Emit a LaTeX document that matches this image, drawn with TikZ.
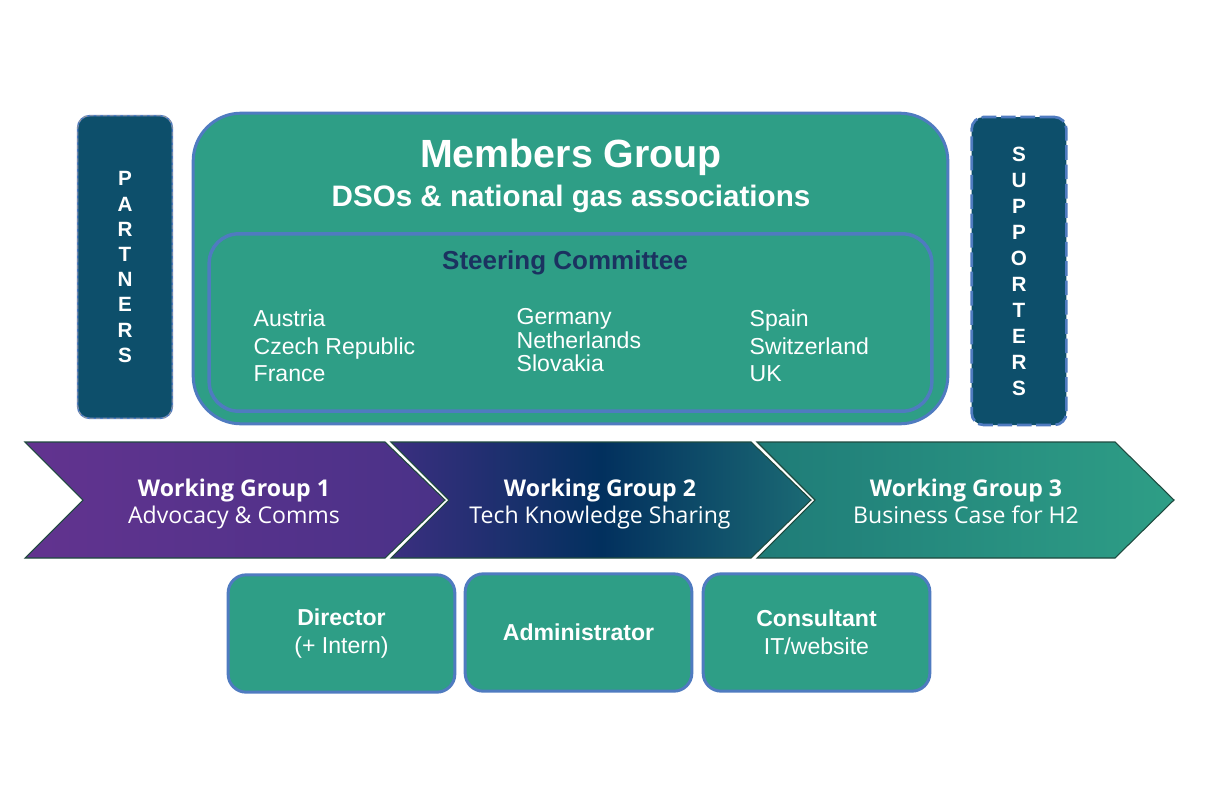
\documentclass[tikz,border=0pt]{standalone}
\usepackage{fontspec}
\setmainfont{Liberation Sans}
\newfontfamily\wgfont{Open Sans}
\usetikzlibrary{positioning}

\definecolor{memgreen}{HTML}{2E9E86}
\definecolor{sidenavy}{HTML}{0D4F6B}
\definecolor{rimblue}{HTML}{4F7BC0}
\definecolor{steernavy}{HTML}{1B3260}
\definecolor{chevline}{HTML}{1F4A3F}
\definecolor{wgoneA}{HTML}{62338F}
\definecolor{wgoneB}{HTML}{4A3288}
\definecolor{wgtwoA}{HTML}{3B2F80}
\definecolor{wgtwoB}{HTML}{02305E}
\definecolor{wgtwoC}{HTML}{1B6A74}
\definecolor{wgthreeA}{HTML}{1F7C78}
\definecolor{wgthreeB}{HTML}{2E9E86}

\pgfdeclarehorizontalshading{wgmid}{100bp}{color(0bp)=(wgtwoA); color(25bp)=(wgtwoA); color(50bp)=(wgtwoB); color(75bp)=(wgtwoC); color(100bp)=(wgtwoC)}

\begin{document}
\begin{tikzpicture}[
    x=0.75pt, y=-0.75pt,
    sidebox/.style={rectangle, rounded corners=9pt, fill=sidenavy, text=white, align=center, minimum width=71pt, font=\fontsize{15.5}{18.9}\selectfont\bfseries},
    memberbox/.style={rectangle, rounded corners=36pt, fill=memgreen, draw=rimblue, line width=2.25pt, minimum width=566pt, minimum height=233pt},
    steerbox/.style={rectangle, rounded corners=22pt, draw=rimblue, line width=2.6pt, minimum width=542pt, minimum height=133pt},
    country/.style={anchor=west, align=left, text=white},
    wgshape/.style={draw=chevline, line width=0.8pt},
    wgtext/.style={text=white, align=center, font=\wgfont\fontsize{17.3}{20.25}\selectfont},
    staff/.style={rectangle, rounded corners=13.5pt, fill=memgreen, draw=rimblue, line width=2.25pt, minimum width=170pt, minimum height=88pt, text=white, align=center, font=\fontsize{17.3}{21}\selectfont}
]
\useasboundingbox (0,0) rectangle (1206,804);

% partners / supporters
\node (partners) [sidebox, minimum height=227pt, draw=rimblue, line width=1.2pt,
    postaction={draw=gray!80, densely dashed, line width=0.6pt}] at (125,267) {P\\A\\R\\T\\N\\E\\R\\S};
\node (supporters) [sidebox, minimum height=231pt, draw=rimblue, line width=2pt,
    dash pattern=on 11pt off 3.5pt, font=\fontsize{15.5}{19.5}\selectfont\bfseries] at (1019,271) {S\\U\\P\\P\\O\\R\\T\\E\\R\\S};

% members group
\node (members) [memberbox] at (570.5,268.5) {};
\node (title) [text=white, font=\fontsize{29.5}{35}\selectfont\bfseries] at (571,157) {Members Group};
\node (dsos) [text=white, font=\fontsize{22.2}{26}\selectfont\bfseries] at (571,199) {DSOs \& national gas associations};

% steering committee
\node (steering) [steerbox] at (570.5,322.5) {};
\node (steertitle) [text=steernavy, font=\fontsize{19.5}{23}\selectfont\bfseries] at (565,263) {Steering Committee};
\node (colA) [country, font=\fontsize{17.3}{20.6}\selectfont] at (249,346) {Austria\\Czech Republic\\France};
\node (colB) [country, font=\fontsize{17.3}{17.6}\selectfont] at (512,340.5) {Germany\\Netherlands\\Slovakia};
\node (colC) [country, font=\fontsize{17.3}{20.6}\selectfont] at (745,346) {Spain\\Switzerland\\UK};

% working groups
\path[wgshape, left color=wgoneA, right color=wgoneB] (25,442) -- ++(360,0) -- ++(60,58) -- ++(-60,58) -- ++(-360,0) -- ++(58,-58) -- cycle;
\path[wgshape, shade, shading=wgmid] (391,442) -- ++(360,0) -- ++(60,58) -- ++(-60,58) -- ++(-360,0) -- ++(58,-58) -- cycle;
\path[wgshape, left color=wgthreeA, right color=wgthreeB] (757,442) -- ++(358,0) -- ++(59,58) -- ++(-59,58) -- ++(-358,0) -- ++(58,-58) -- cycle;
\node (wg1) [wgtext] at (234,504) {\textbf{Working Group 1}\\Advocacy \& Comms};
\node (wg2) [wgtext] at (600,504) {\textbf{Working Group 2}\\Tech Knowledge Sharing};
\node (wg3) [wgtext] at (966,501) {\textbf{Working Group 3}\\Business Case for H2};

% staff
\node (director) [staff] at (341.5,633.5) {\textbf{Director}\\(+ Intern)};
\node (admin) [staff] at (578.5,632.5) {\textbf{Administrator}};
\node (consult) [staff] at (816.5,632.5) {\textbf{Consultant}\\IT/website};

\end{tikzpicture}
\end{document}
